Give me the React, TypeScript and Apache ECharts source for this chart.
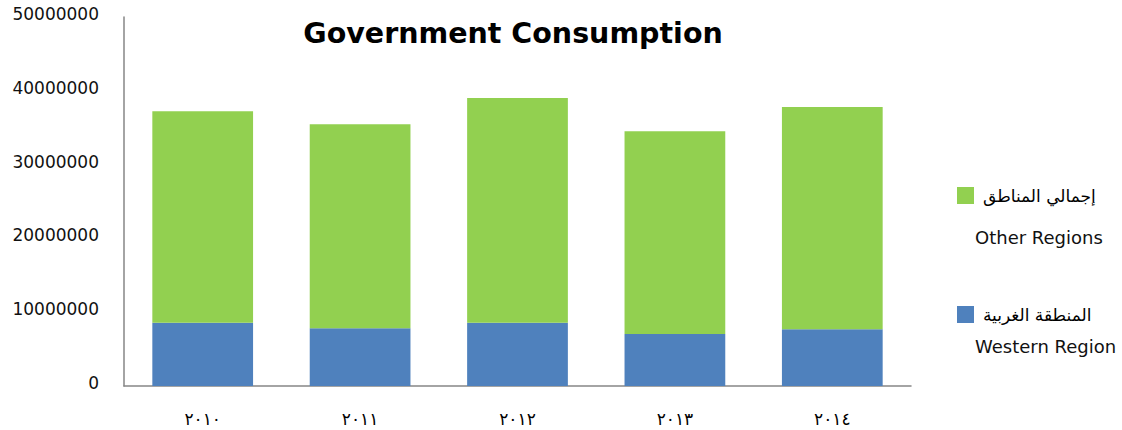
import React, { useEffect, useRef } from "react";
import * as echarts from "echarts";

const years = ["٢٠١٠", "٢٠١١", "٢٠١٢", "٢٠١٣", "٢٠١٤"];
const westernRegion = [8580000, 7820000, 8580000, 7050000, 7680000];
const otherRegions = [28640000, 27640000, 30440000, 27460000, 30120000];
const yTicks = { min: 0, max: 50000000, interval: 10000000 };
const seriesNamesAr = ["إجمالي المناطق", "المنطقة الغربية"];
const seriesNamesEn = ["Other Regions", "Western Region"];
const titleText = "Government Consumption";

export default function App() {
  const ref = useRef<HTMLDivElement>(null);
  useEffect(() => {
    if (!ref.current) return;
    const chart = echarts.init(ref.current, null, { renderer: "svg" });
    chart.setOption({
      animation: false,
      backgroundColor: "#ffffff",
      title: {
        text: titleText,
        left: 508,
        top: 14,
        textAlign: "center",
        textStyle: {
          fontFamily: "DejaVu Sans",
          fontWeight: "bold",
          fontSize: 28.5,
          color: "#000",
        },
      },
      grid: { left: 124, right: 211, top: 17, bottom: 44, containLabel: false },
      legend: {
        orient: "vertical",
        left: 952,
        top: 182,
        itemWidth: 17,
        itemHeight: 17,
        itemGap: 102,
        icon: "rect",
        data: [seriesNamesAr[0], seriesNamesAr[1]],
        textStyle: { fontFamily: "DejaVu Sans", fontSize: 17, color: "#000", padding: [0, 0, 0, 4] },
      },
      graphic: [
        {
          type: "text",
          left: 975,
          top: 228,
          style: { text: seriesNamesEn[0], fontFamily: "DejaVu Sans", fontSize: 18, fill: "#111" },
        },
        {
          type: "text",
          left: 975,
          top: 337,
          style: { text: seriesNamesEn[1], fontFamily: "DejaVu Sans", fontSize: 18, fill: "#111" },
        },
      ],
      xAxis: {
        type: "category",
        data: years,
        axisLine: { show: true, lineStyle: { color: "#868686", width: 1.5 } },
        axisTick: { show: false },
        axisLabel: { fontFamily: "DejaVu Sans", fontSize: 17, color: "#000", margin: 24 },
      },
      yAxis: {
        type: "value",
        min: yTicks.min,
        max: yTicks.max,
        interval: yTicks.interval,
        axisLine: { show: true, lineStyle: { color: "#868686", width: 1.5 } },
        axisTick: { show: false },
        splitLine: { show: false },
        axisLabel: {
          fontFamily: "DejaVu Sans",
          fontSize: 17,
          color: "#111",
          margin: 25,
          verticalAlign: "bottom",
          lineHeight: 6,
          formatter: (v: number) => String(v),
        },
      },
      series: [
        {
          name: seriesNamesAr[1],
          type: "bar",
          stack: "total",
          barWidth: "64%",
          data: westernRegion,
          itemStyle: { color: "#4F81BD" },
        },
        {
          name: seriesNamesAr[0],
          type: "bar",
          stack: "total",
          barWidth: "64%",
          data: otherRegions,
          itemStyle: { color: "#92D050" },
        },
      ],
    });
    return () => chart.dispose();
  }, []);
  return (
    <div
      ref={ref}
      style={{ position: "absolute", left: 0, top: 0, width: 1122, height: 430 }}
    />
  );
}
